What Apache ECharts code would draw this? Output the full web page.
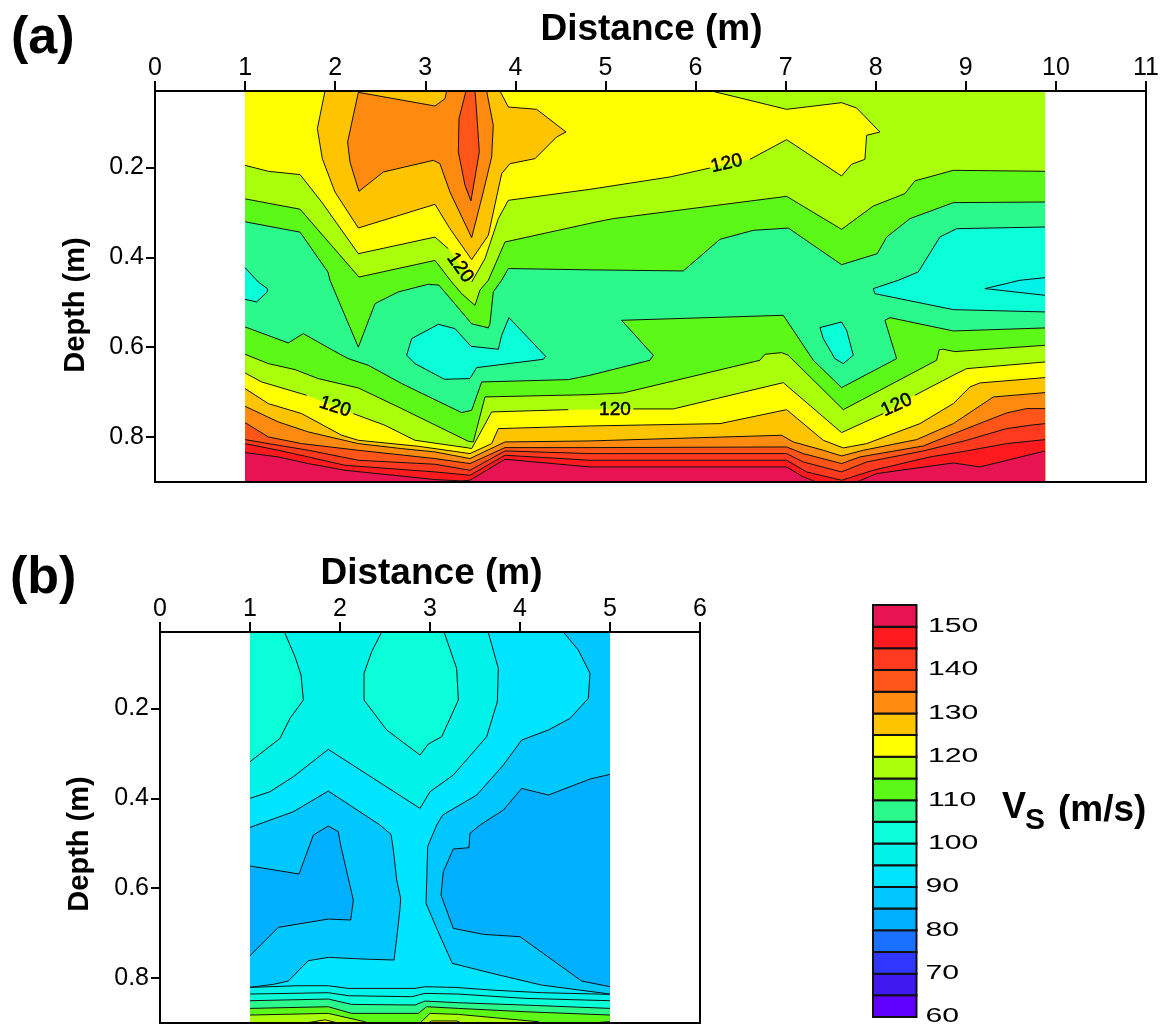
<!DOCTYPE html>
<html><head><meta charset="utf-8">
<script src="https://cdn.jsdelivr.net/npm/echarts@6/dist/echarts.min.js"></script>
<style>html,body{margin:0;background:#fff}#c{width:1167px;height:1028px}</style></head>
<body><div id="c"></div>
<script>
// ---------- axis values ----------
const depthTicks = [0.2, 0.4, 0.6, 0.8];
const depthTop = 0.03, depthBottom = 0.9;
const colorbarLevels = [60,65,70,75,80,85,90,95,100,105,110,115,120,125,130,135,140,145,150];
const colorbarTicks = [60,70,80,90,100,110,120,130,140,150];
const bandColors = ['#6000ff','#4018f0','#3038ff','#1a70ff','#00b0ff','#00c8ff','#00e5ff','#00f2e8','#0affd8','#2cf98c','#5cf818','#aaff0a','#ffff00','#ffc400','#ff8a10','#ff5518','#ff3a1e','#ff1a20','#e81352'];

// ---------- panel (a): contour lines as [distance, depth] ----------
const a110upper = [[1,.321],[1.61,.344],[1.92,.433],[1.942,.451],[2.257,.6],[2.442,.503],[2.701,.477],[3.034,.46],[3.152,.462],[3.515,.548],[3.7,.557],[3.718,.548],[3.755,.477],[3.848,.451],[3.922,.425],[4.828,.428],[5.864,.4304],[6.271,.36],[6.641,.34],[7.03,.335],[7.621,.4164],[8.017,.392],[8.121,.355],[8.38,.314],[8.861,.2784],[9.88,.277]];
const a115upper = [[1,.27],[1.61,.293],[2.264,.444],[3.108,.407],[3.293,.455],[3.404,.481],[3.552,.507],[3.607,.473],[3.7,.451],[3.885,.366],[4.884,.322],[5.087,.314],[7.011,.2644],[7.621,.3378],[7.973,.286],[8.324,.2584],[8.435,.23],[8.861,.2065],[9.88,.2087]];
const a120upper = [[1,.1954],[1.258,.2087],[1.61,.216],[1.85,.277],[2.257,.392],[3.108,.355],[3.256,.381],[3.515,.455],[3.663,.403],[3.811,.314],[3.922,.2732],[4.828,.2488],[5.716,.2213],[6.16,.2013],[6.604,.182],[7.011,.1383],[7.621,.2191],[7.732,.1931],[7.88,.182],[7.899,.1286],[8.047,.1212],[7.788,.0678],[7.621,.056],[7.011,.0708],[6.178,.03]];
const a125upper = [[1.887,.03],[1.802,.1138],[1.857,.1805],[1.998,.2547],[2.257,.3348],[3.108,.2821],[3.274,.3363],[3.515,.4052],[3.7,.351],[3.848,.2139],[3.94,.1917],[4.218,.1805],[4.458,.1323],[4.562,.1212],[4.236,.0708],[3.922,.0656],[3.829,.03]];
const a130upper = [[3.237,.03],[3.219,.047],[3.108,.0634],[2.257,.033],[2.138,.1435],[2.164,.188],[2.264,.2532],[2.534,.2102],[3.089,.1843],[3.163,.1917],[3.274,.2547],[3.515,.3563],[3.644,.2547],[3.737,.1768],[3.755,.1064],[3.681,.03]];
const a135upper = [[3.452,.03],[3.374,.0916],[3.367,.1657],[3.441,.2399],[3.507,.2747],[3.6,.1657],[3.57,.0767],[3.552,.03]];
const a110lower = [[1,.555],[1.48,.5906],[1.646,.5698],[1.961,.6055],[2.146,.6255],[2.368,.6403],[2.738,.681],[3.404,.7456],[3.515,.7404],[3.626,.6774],[4.588,.6722],[4.828,.6625],[5.494,.6292],[5.531,.618],[5.179,.5402],[6.974,.5291],[7.307,.6292],[7.621,.69],[8.232,.6255],[8.102,.5402],[8.158,.5343],[8.861,.5639],[9.88,.5572]];
const a115lower = [[1,.6158],[1.258,.6366],[1.554,.6499],[1.813,.67],[2.257,.6907],[2.738,.7367],[3.478,.8094],[3.533,.8109],[3.663,.7107],[4.828,.7056],[5.198,.7018],[6.715,.6292],[6.77,.6158],[6.955,.6121],[7.029,.618],[7.64,.739],[8.676,.6292],[8.705,.6054],[8.75,.6047],[8.879,.6099],[9.88,.5958]];
const a120lower = [[1,.6574],[1.184,.6774],[1.683,.707],[2.201,.7478],[2.553,.7738],[2.886,.8072],[3.478,.8242],[3.515,.8257],[3.737,.7441],[4.588,.739],[5.309,.7374],[5.753,.7374],[6.974,.6789],[7.621,.7901],[8.084,.7478],[8.435,.707],[8.861,.6625],[9.009,.6477],[9.88,.6329]];
const a125lower = [[1,.6922],[1.258,.7256],[1.628,.7478],[2.072,.796],[2.257,.8072],[2.923,.8205],[3.496,.8368],[3.737,.8146],[3.811,.7812],[4.828,.7753],[6.271,.7701],[7.011,.739],[7.418,.8072],[7.64,.8242],[7.899,.8146],[8.491,.7701],[8.861,.7256],[9.046,.6885],[9.157,.6796],[9.88,.6677]];
const a130lower = [[1,.7315],[1.369,.7664],[1.702,.7886],[2.257,.8146],[2.738,.8257],[3.108,.8331],[3.496,.8479],[3.885,.8109],[4.828,.8086],[6.955,.796],[7.085,.8109],[7.418,.8294],[7.621,.842],[7.862,.8294],[8.454,.8057],[8.861,.7701],[9.305,.7108],[9.88,.7011]];
const a135lower = [[1,.7679],[1.258,.7997],[1.628,.8146],[2.257,.8294],[3.108,.8479],[3.496,.859],[3.885,.8235],[4.828,.8235],[7.011,.822],[7.196,.8368],[7.621,.859],[7.825,.8442],[8.528,.8198],[9.009,.7812],[9.453,.7463],[9.675,.7367],[9.88,.7367]];
const a140lower = [[1,.8057],[1.369,.8183],[1.702,.8294],[2.257,.8517],[3.108,.8605],[3.496,.8739],[3.885,.8309],[4.828,.8368],[7.011,.8368],[7.196,.8554],[7.621,.8776],[7.899,.8554],[8.528,.8309],[9.009,.8072],[9.453,.7812],[9.712,.7738],[9.88,.7701]];
const a145lower = [[1,.8146],[1.369,.8294],[1.702,.8442],[2.109,.8628],[3.108,.8776],[3.496,.885],[3.885,.8405],[4.828,.8516],[7.011,.8516],[7.233,.8776],[7.621,.8961],[7.973,.8739],[8.602,.8442],[9.009,.8309],[9.453,.8146],[9.88,.8057]];
const a150lower = [[1,.8346],[1.369,.8442],[1.702,.859],[2.109,.8739],[3.108,.8946],[3.404,.8976],[3.496,.8961],[3.885,.8494],[4.828,.8665],[7.011,.8665],[7.196,.8887],[7.344,.9],[7.788,.9],[8.01,.8813],[8.861,.8576],[9.157,.8665],[9.88,.8309]];
const a100left = [[1,.423],[1.147,.455],[1.247,.4697],[1.247,.4772],[1.128,.4994],[1,.4935]];
const a100centre = [[2.793,.618],[2.849,.581],[3.145,.5491],[3.33,.5587],[3.507,.598],[3.811,.6047],[3.848,.5736],[3.929,.5343],[4.336,.6203],[4.31,.627],[3.57,.6455],[3.496,.6699],[3.211,.6714],[2.886,.6366]];
const a100right = [[9.88,.3326],[8.898,.3363],[8.713,.3548],[8.472,.4327],[8.25,.4512],[7.973,.4697],[7.991,.4809],[8.861,.5165],[9.88,.5216]];
const a95right = [[9.88,.4453],[9.6,.4512],[9.212,.4697],[9.88,.4846]];
const a100small = [[7.381,.5565],[7.621,.5439],[7.677,.5624],[7.751,.618],[7.64,.6366],[7.547,.6255],[7.418,.581]];
// contour label: distance, depth, rotation in degrees
const aLabels = [[6.345,.1917,13],[3.385,.423,-55],[1.998,.733,-18],[5.105,.739,0],[8.232,.729,25]];

// ---------- panel (b) ----------
const b95upper = [[1,.4002],[1.222,.3854],[1.482,.352],[1.87,.2912],[2.889,.4225],[3,.3854],[3.259,.3483],[3.63,.263],[3.748,.1851],[3.759,.1109],[3.648,.031]];
const b100left = [[1,.3186],[1.333,.2667],[1.444,.2222],[1.593,.1814],[1.567,.1258],[1.5,.085],[1.382,.03]];
const b100centre = [[2.463,.03],[2.352,.0738],[2.267,.122],[2.267,.1814],[2.519,.2481],[2.889,.3038],[2.981,.2793],[3.13,.263],[3.315,.1814],[3.296,.1109],[3.156,.03]];
const b90left = [[1,.4647],[1.482,.4299],[1.87,.3839],[2.444,.4595],[2.567,.4803],[2.593,.5151],[2.63,.5819],[2.674,.6227],[2.667,.6449],[2.63,.7117],[2.6,.7599],[2.259,.7577],[1.87,.754],[1.648,.7614],[1.426,.8066],[1.259,.814],[1,.8205]];
const b85left = [[1,.5507],[1.545,.5685],[1.704,.4818],[1.87,.4617],[1.981,.4743],[2.007,.504],[2.148,.6264],[2.119,.6709],[1.87,.6687],[1.315,.6872],[1,.7503]];
const b90right = [[4.481,.03],[4.648,.0701],[4.778,.122],[4.759,.1777],[4.556,.2222],[4.315,.2481],[4.019,.2704],[3.815,.326],[3.519,.3928],[3.141,.4373],[3.074,.4595],[2.974,.5077],[2.956,.6338],[3.074,.6894],[3.248,.7673],[3.722,.7911],[4.24,.8156],[5,.8356]];
const b85right = [[5,.3468],[4.778,.3572],[4.315,.3928],[4.019,.378],[3.815,.4262],[3.556,.4595],[3.444,.478],[3.433,.5099],[3.259,.5129],[3.148,.5633],[3.122,.6153],[3.259,.6894],[3.593,.7028],[4,.708],[4.685,.8066],[5,.8192]];
const b95lower = [[1,.8208],[1.537,.8171],[1.87,.8171],[2.093,.823],[2.833,.823],[2.944,.8193],[3.278,.8208],[3.685,.8267],[4.24,.8326],[5,.8363]];
const b100lower = [[1,.8356],[1.87,.8326],[2.093,.8393],[2.796,.8415],[2.944,.8341],[3.314,.8356],[4.055,.8452],[5,.8504]];
const b105lower = [[1,.8504],[1.87,.8467],[2.129,.8586],[2.833,.86],[2.944,.8512],[3.314,.8549],[4.055,.8601],[5,.8675]];
const b110lower = [[1,.8675],[1.87,.8638],[2.129,.8786],[2.87,.8786],[2.963,.8638],[3.314,.8675],[4.055,.8749],[5,.8823]];
const b115lowerA = [[1,.8823],[1.87,.8786],[2.277,.8972],[2.314,.9]];
const b115lowerB = [[2.889,.9],[3,.8786],[3.314,.8808],[4.203,.8972],[4.24,.9]];
const b115lowerC = [[4.8,.9],[5,.897]];
const b120lowerA = [[1.62,.9],[1.833,.893],[1.98,.9]];
const b120lowerB = [[2.98,.9],[3.018,.8955],[3.3,.8955],[3.35,.9]];

// ---------- drawing order: band = lower bound of the filled interval ----------
const regionsA = [
  {band:110,via:'top',pts:a110upper},{band:115,via:'top',pts:a115upper},
  {band:120,via:'top',pts:a120upper,gaps:[6,13]},{band:125,via:'top',pts:a125upper},
  {band:130,via:'top',pts:a130upper},{band:135,via:'top',pts:a135upper,},
  {band:110,via:'bottom',pts:a110lower},{band:115,via:'bottom',pts:a115lower},
  {band:120,via:'bottom',pts:a120lower,gaps:[2,9,14]},{band:125,via:'bottom',pts:a125lower},
  {band:130,via:'bottom',pts:a130lower},{band:135,via:'bottom',pts:a135lower},
  {band:140,via:'bottom',pts:a140lower},{band:145,via:'bottom',pts:a145lower},
  {band:150,via:'bottom',pts:a150lower},
  {band:100,pts:a100left},{band:100,pts:a100centre,loop:true},{band:100,pts:a100right},
  {band:95,pts:a95right},{band:100,pts:a100small,loop:true}
];
const regionsB = [
  {band:95,via:'top',pts:b95upper},{band:100,via:'top',pts:b100left},{band:100,via:'top',pts:b100centre},
  {band:85,pts:b90left},{band:80,pts:b85left},
  {band:85,pts:b90right,corner:[5,depthTop]},{band:80,pts:b85right},
  {band:95,via:'bottom',pts:b95lower},{band:100,via:'bottom',pts:b100lower},
  {band:105,via:'bottom',pts:b105lower},{band:110,via:'bottom',pts:b110lower},
  {band:115,via:'bottom',pts:b115lowerA},{band:115,via:'bottom',pts:b115lowerB},{band:115,via:'bottom',pts:b115lowerC},
  {band:120,via:'bottom',pts:b120lowerA},{band:120,via:'bottom',pts:b120lowerB}
];
const bandColor = v => bandColors[colorbarLevels.indexOf(v)];
const FONT = '"Liberation Sans", Arial, sans-serif';

function fillSeries(regions, bg, xEnd, ai){
  const fills = {
    type:'custom', xAxisIndex:ai, yAxisIndex:ai, silent:true, z:2, clip:false,
    data: [[-1,0]].concat(regions.map((r,i)=>[i,0])),
    renderItem(p, api){
      const i = api.value(0);
      if(i<0){
        const a=api.coord([1,depthTop]), b=api.coord([xEnd,depthBottom]);
        return {type:'rect',shape:{x:a[0],y:a[1],width:b[0]-a[0],height:b[1]-a[1]},style:{fill:bandColor(bg)}};
      }
      const r=regions[i]; let pts=r.pts.slice();
      const f=pts[0], l=pts[pts.length-1];
      if(r.via==='top') pts.push([l[0],depthTop],[f[0],depthTop]);
      if(r.via==='bottom') pts.push([l[0],depthBottom],[f[0],depthBottom]);
      if(r.corner) pts.push(r.corner);
      return {type:'polygon',shape:{points:pts.map(q=>api.coord(q))},style:{fill:bandColor(r.band)}};
    }
  };
  const lines = {
    type:'custom', xAxisIndex:ai, yAxisIndex:ai, silent:true, z:3, clip:false,
    data: regions.map((r,i)=>[i,0]),
    renderItem(p, api){
      const r=regions[api.value(0)], g=r.gaps||[]; const kids=[]; let cur=[];
      const pts=r.loop?r.pts.concat([r.pts[0]]):r.pts;
      pts.forEach((q,k)=>{
        cur.push(api.coord(q));
        if(g.includes(k)){kids.push(cur);cur=[];}
      });
      kids.push(cur);
      return {type:'group',children:kids.filter(c=>c.length>1).map(c=>({type:'polyline',shape:{points:c},style:{fill:null,stroke:'#111',lineWidth:1}}))};
    }
  };
  return [fills,lines];
}

const axisBase = {axisLine:{show:true,onZero:false,lineStyle:{color:'#000',width:2}},splitLine:{show:false},z:5};
const xTop = (gi,max,) => Object.assign({},axisBase,{type:'value',gridIndex:gi,position:'top',min:0,max,interval:1,
  axisTick:{show:true,inside:false,length:10,lineStyle:{color:'#000',width:2}},
  axisLabel:{show:true,margin:10,color:'#000',fontFamily:FONT,fontSize:25,hideOverlap:false,showMinLabel:true,showMaxLabel:true}});
const xBot = (gi,max) => Object.assign({},axisBase,{type:'value',gridIndex:gi,position:'bottom',min:0,max,interval:1,axisTick:{show:false},axisLabel:{show:false}});
const yLeft = gi => Object.assign({},axisBase,{type:'value',gridIndex:gi,position:'left',inverse:true,min:depthTop,max:depthBottom,
  axisTick:{show:true,length:9,customValues:depthTicks,lineStyle:{color:'#000',width:2}},
  axisLabel:{show:true,margin:11,color:'#000',fontFamily:FONT,fontSize:25,customValues:depthTicks,formatter:v=>v.toFixed(1)}});
const yRight = gi => Object.assign({},axisBase,{type:'value',gridIndex:gi,position:'right',inverse:true,min:depthTop,max:depthBottom,axisTick:{show:false},axisLabel:{show:false}});

const txt = (text,x,y,size,extra) => Object.assign({type:'text',x,y,silent:true,z:20,
  style:{text,fill:'#000',font:'bold '+size+'px '+FONT,textAlign:'left',textVerticalAlign:'middle'}},extra||{});

const option = {
  animation:false, backgroundColor:'#fff',
  grid:[
    {left:155,top:91,width:991,height:391,containLabel:false},
    {left:160,top:632,width:540,height:391,containLabel:false},
    {left:873,top:605,width:43.5,height:412,containLabel:false}
  ],
  xAxis:[xTop(0,11),xBot(0,11),xTop(1,6),xBot(1,6),
    {type:'value',gridIndex:2,min:0,max:1,show:false}],
  yAxis:[yLeft(0),yRight(0),yLeft(1),yRight(1),
    {type:'value',gridIndex:2,min:60,max:155,show:false}],
  series:[
    ...fillSeries(regionsA,105,9.88,0),
    {type:'custom',xAxisIndex:0,yAxisIndex:0,silent:true,z:4,clip:false,data:aLabels,
      renderItem(p,api){
        const c=api.coord([api.value(0),api.value(1)]);
        return {type:'text',x:c[0],y:c[1],rotation:api.value(2)*Math.PI/180,
          style:{text:'120',fill:'#000',font:'19px '+FONT,textAlign:'center',textVerticalAlign:'middle',stroke:'#000',lineWidth:0.5}};
      }},
    ...fillSeries(regionsB,90,5,2),
    {type:'custom',xAxisIndex:4,yAxisIndex:4,silent:true,z:2,clip:false,data:colorbarLevels.map(v=>[v]),
      renderItem(p,api){
        const v=api.value(0), a=api.coord([0,v+5]), b=api.coord([1,v]);
        return {type:'rect',shape:{x:a[0],y:a[1],width:b[0]-a[0],height:b[1]-a[1]},
          style:{fill:bandColor(v),stroke:'#111',lineWidth:2}};
      }},
    {type:'custom',xAxisIndex:4,yAxisIndex:4,silent:true,z:2,clip:false,data:colorbarTicks.map(v=>[v]),
      renderItem(p,api){
        const v=api.value(0), c=api.coord([1,v]);
        return {type:'text',x:c[0]+(v<100?9:11.5),y:c[1],scaleX:1.55,
          style:{text:String(v),fill:'#000',font:'19.5px '+FONT,textAlign:'left',textVerticalAlign:'middle'}};
      }}
  ],
  graphic:[
    txt('(a)',11,39,52), txt('(b)',10,579,52),
    txt('Distance (m)',651.5,30,36,{style:{text:'Distance (m)',fill:'#000',font:'bold 37px '+FONT,textAlign:'center',textVerticalAlign:'middle'}}),
    txt('Distance (m)',431.5,574,36,{style:{text:'Distance (m)',fill:'#000',font:'bold 37px '+FONT,textAlign:'center',textVerticalAlign:'middle'}}),
    txt('Depth (m)',76,305,29,{rotation:Math.PI/2,style:{text:'Depth (m)',fill:'#000',font:'bold 29px '+FONT,textAlign:'center',textVerticalAlign:'middle'}}),
    txt('Depth (m)',80,844,29,{rotation:Math.PI/2,style:{text:'Depth (m)',fill:'#000',font:'bold 29px '+FONT,textAlign:'center',textVerticalAlign:'middle'}}),
    txt('V',1002,808,36), txt('S',1025,821,30), txt('(m/s)',1058,811,37)
  ]
};
echarts.init(document.getElementById('c'),null,{renderer:'canvas'}).setOption(option);
</script></body></html>
